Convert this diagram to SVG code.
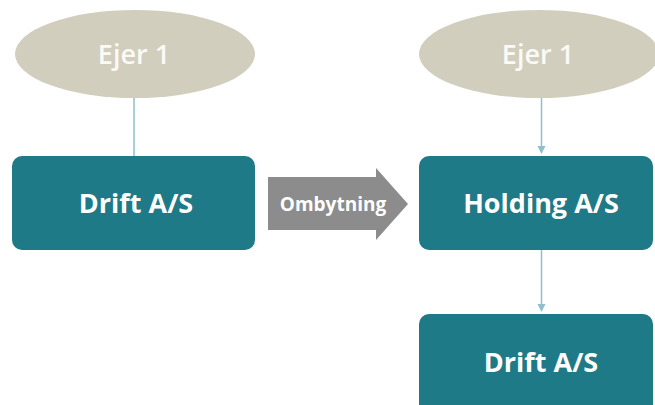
<svg xmlns="http://www.w3.org/2000/svg" width="655" height="405" viewBox="0 0 655 405">
<defs>
<style>
.owner{fill:#d1cebe}
.box{fill:#1f7a87}
.t{font-family:"Open Sans","Noto Sans",sans-serif;font-weight:bold;text-anchor:middle;fill:#ffffff}
.ot{font-size:27px;fill:#fbfaf6;font-weight:600}
.bt{font-size:27px}
.conn{stroke:#8dbfcc;stroke-width:1.5;fill:none}
.ah{fill:#8dbfcc}
</style>
</defs>
<rect width="655" height="405" fill="#ffffff"/>
<g id="connectors">
<line class="conn" x1="134" y1="98" x2="134" y2="156"/>
<path class="conn" d="M541.5,98 V146"/>
<path class="ah" d="M537.5,146 L545.5,146 L541.5,154 Z"/>
<path class="conn" d="M541.5,250 V304"/>
<path class="ah" d="M537.5,304 L545.5,304 L541.5,312 Z"/>
</g>
<g id="ejer1-left">
<ellipse class="owner" cx="135" cy="54" rx="120" ry="44"/>
<text class="t ot" x="134" y="64">Ejer 1</text>
</g>
<g id="drift-left">
<rect class="box" x="12" y="156" width="243" height="94" rx="10"/>
<text class="t bt" x="136" y="213">Drift A/S</text>
</g>
<g id="ombytning">
<path d="M268,177 H376 V168 L408,204 L376,240 V230 H268 Z" fill="#8c8c8c"/>
<text class="t" x="333" y="211" font-size="19" font-weight="600" fill="#f2f2f2">Ombytning</text>
</g>
<g id="ejer1-right">
<ellipse class="owner" cx="539" cy="54" rx="120" ry="44"/>
<text class="t ot" x="538" y="64">Ejer 1</text>
</g>
<g id="holding">
<rect class="box" x="419" y="156" width="234" height="94" rx="10"/>
<text class="t bt" x="541" y="213">Holding A/S</text>
</g>
<g id="drift-right">
<rect class="box" x="419" y="314" width="234" height="110" rx="10"/>
<text class="t bt" x="541" y="372">Drift A/S</text>
</g>
</svg>
